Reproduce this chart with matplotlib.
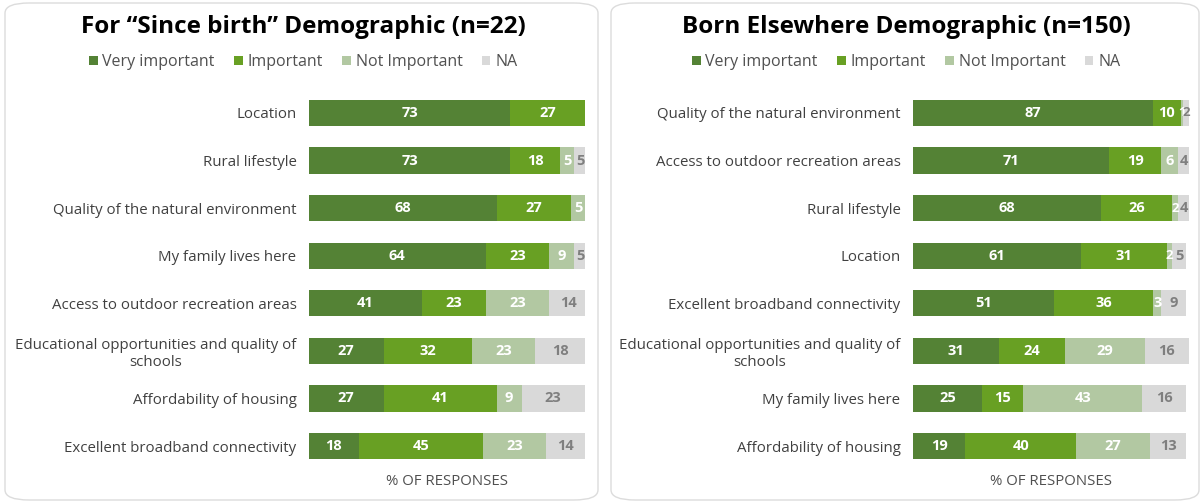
import matplotlib
matplotlib.use("Agg")
import matplotlib.pyplot as plt
from matplotlib.patches import FancyBboxPatch, Patch
import numpy as np

plt.rcParams['font.family'] = ['Open Sans', 'DejaVu Sans']

series_names = ["Very important", "Important", "Not Important", "NA"]
colors = ["#548235", "#68a023", "#b2c8a2", "#d9d9d9"]
label_colors = ["white", "white", "white", "#7f7f7f"]

left_title = "For \u201cSince birth\u201d Demographic (n=22)"
left_cats = ["Location", "Rural lifestyle", "Quality of the natural environment",
             "My family lives here", "Access to outdoor recreation areas",
             "Educational opportunities and quality of\nschools",
             "Affordability of housing", "Excellent broadband connectivity"]
left_very = [73, 73, 68, 64, 41, 27, 27, 18]
left_imp = [27, 18, 27, 23, 23, 32, 41, 45]
left_not = [0, 5, 5, 9, 23, 23, 9, 23]
left_na = [0, 5, 0, 5, 14, 18, 23, 14]

right_title = "Born Elsewhere Demographic (n=150)"
right_cats = ["Quality of the natural environment", "Access to outdoor recreation areas",
              "Rural lifestyle", "Location", "Excellent broadband connectivity",
              "Educational opportunities and quality of\nschools",
              "My family lives here", "Affordability of housing"]
right_very = [87, 71, 68, 61, 51, 31, 25, 19]
right_imp = [10, 19, 26, 31, 36, 24, 15, 40]
right_not = [1, 6, 2, 2, 3, 29, 43, 27]
right_na = [2, 4, 4, 5, 9, 16, 16, 13]

xlabel = "% OF RESPONSES"

W, H = 1202, 504
fig = plt.figure(figsize=(W / 100, H / 100), dpi=100)

def fx(px):
    return px / W

def fy(py):
    return 1 - py / H

# panel backgrounds
for (x0, x1) in [(5, 598), (611, 1199)]:
    p = FancyBboxPatch((fx(x0), fy(500)), fx(x1 - x0), (497) / H,
                       boxstyle="round,pad=0,rounding_size=0.02",
                       transform=fig.transFigure, facecolor="none",
                       edgecolor="#dcdcdc", linewidth=1.0, zorder=-10)
    fig.patches.append(p)

def draw_panel(ax_left_px, cats, data, title, center_px):
    ax = fig.add_axes([fx(ax_left_px), fy(469.8), fx(276), 380.6 / H])
    ax.patch.set_alpha(0)
    y = np.arange(len(cats))
    left = np.zeros(len(cats))
    for vals, col, lc in zip(data, colors, label_colors):
        vals = np.array(vals, dtype=float)
        ax.barh(y, vals, left=left, color=col, height=0.55, edgecolor='none')
        for yi, (l, v) in enumerate(zip(left, vals)):
            if v > 0:
                ax.text(l + v / 2, yi, f"{int(v)}", ha='center', va='center',
                        color=lc, fontsize=10.5 if v >= 3 else 9.5, fontweight='bold')
        left += vals
    ax.set_xlim(0, 100)
    ax.set_ylim(len(cats) - 0.5, -0.5)
    ax.set_yticks(y)
    ax.set_yticklabels(cats, fontsize=10.8, color="#404040", multialignment='center')
    ax.tick_params(axis='y', length=0, pad=9)
    ax.set_xticks([])
    for s in ax.spines.values():
        s.set_visible(False)
    ax.set_xlabel(xlabel, fontsize=10.8, color="#505050", labelpad=3)
    fig.text(fx(center_px), fy(27), title, ha='center', va='center',
             fontsize=17.5, fontweight='bold', color='black')
    handles = [Patch(facecolor=c, edgecolor='none') for c in colors]
    fig.legend(handles, series_names, loc='center', bbox_to_anchor=(fx(center_px), fy(62)),
               ncol=4, frameon=False, fontsize=11.5, handlelength=0.55, handleheight=0.55,
               handletextpad=0.3, columnspacing=1.2, labelcolor="#505050")
    return ax

draw_panel(309, left_cats, [left_very, left_imp, left_not, left_na], left_title, 303)
draw_panel(913, right_cats, [right_very, right_imp, right_not, right_na], right_title, 906)

fig.savefig("out.png", dpi=100)
